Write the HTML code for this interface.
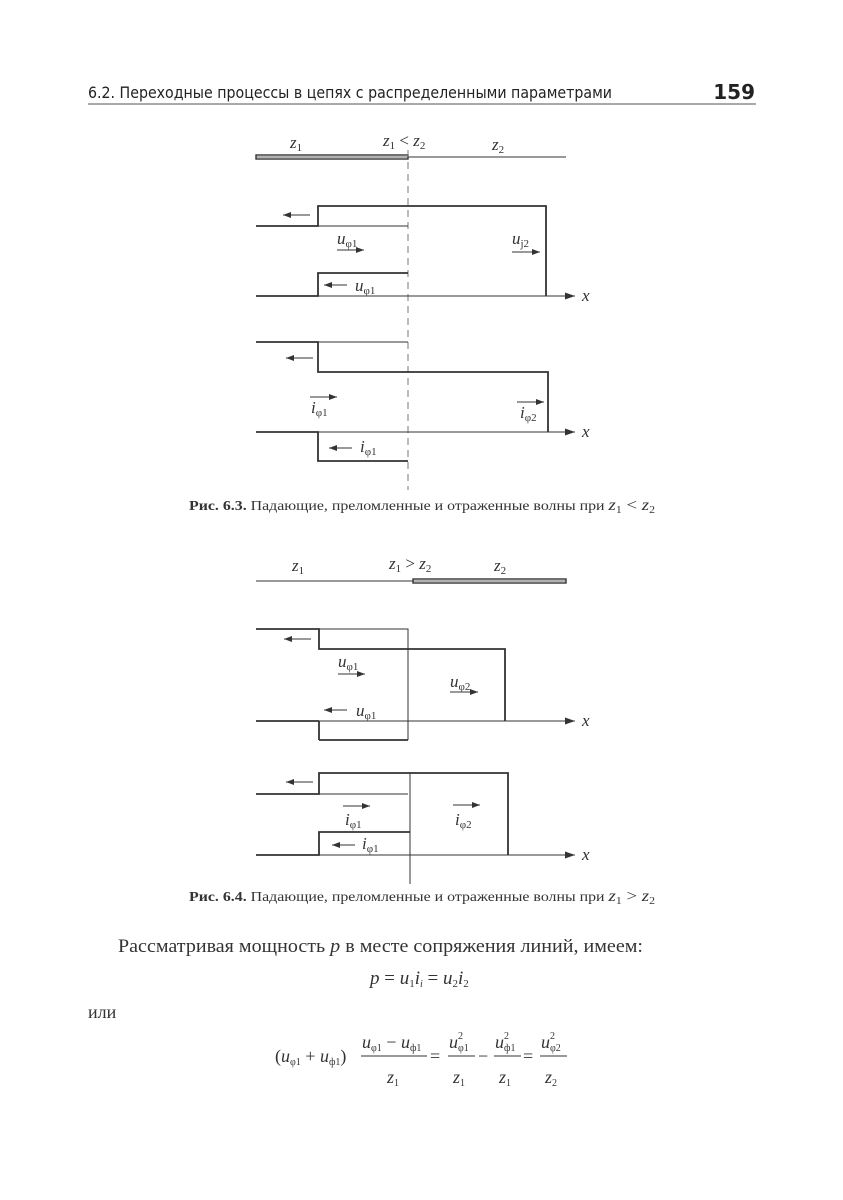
<!DOCTYPE html>
<html><head><meta charset="utf-8"><style>
html,body{margin:0;padding:0;background:#fff;}
svg{display:block}
.s{font-family:"Liberation Serif",serif;fill:#333}
.i{font-family:"Liberation Serif",serif;font-style:italic;fill:#333}
</style></head><body>
<svg width="843" height="1200" viewBox="0 0 843 1200" xmlns="http://www.w3.org/2000/svg">
<defs><marker id="a" markerWidth="8" markerHeight="6" refX="8" refY="3" orient="auto" markerUnits="userSpaceOnUse"><path d="M0,0 L8,3 L0,6z" fill="#333"/></marker>
<marker id="b" markerWidth="10" markerHeight="7" refX="10" refY="3.5" orient="auto" markerUnits="userSpaceOnUse"><path d="M0,0 L10,3.5 L0,7z" fill="#333"/></marker></defs>
<!-- header -->
<text x="88" y="98" font-family="'DejaVu Sans Condensed','DejaVu Sans',sans-serif" font-size="16" fill="#222" textLength="524" lengthAdjust="spacingAndGlyphs">6.2. Переходные процессы в цепях с распределенными параметрами</text>
<text x="755" y="99" text-anchor="end" font-family="'DejaVu Sans',sans-serif" font-weight="bold" font-size="20" fill="#222">159</text>
<line x1="88" y1="104" x2="756" y2="104" stroke="#555" stroke-width="1"/>

<g stroke="#333" fill="none">
<!-- Fig 6.3 top line -->
<rect x="256" y="155" width="152" height="4" stroke-width="1.4"/>
<line x1="256" y1="157" x2="408" y2="157" stroke-width="0.8"/>
<line x1="408" y1="157" x2="566" y2="157" stroke-width="1"/>
<line x1="408" y1="150" x2="408" y2="490" stroke="#777" stroke-width="1" stroke-dasharray="7,5"/>
<!-- u -->
<polyline points="256,226 318,226 318,206 546,206 546,296" stroke-width="1.8"/>
<line x1="318" y1="226" x2="408" y2="226" stroke-width="1"/>
<polyline points="256,296 318,296 318,273 408,273" stroke-width="1.8"/>
<line x1="318" y1="296" x2="575" y2="296" stroke-width="1" marker-end="url(#b)"/>
<!-- i -->
<polyline points="256,342 318,342 318,372 548,372 548,432" stroke-width="1.8"/>
<line x1="318" y1="342" x2="408" y2="342" stroke-width="1"/>
<polyline points="256,432 318,432 318,461 408,461" stroke-width="1.8"/>
<line x1="318" y1="432" x2="575" y2="432" stroke-width="1" marker-end="url(#b)"/>
<!-- arrows -->
<line x1="310" y1="215" x2="283" y2="215" marker-end="url(#a)"/>
<line x1="337" y1="250" x2="364" y2="250" marker-end="url(#a)"/>
<line x1="512" y1="252" x2="540" y2="252" marker-end="url(#a)"/>
<line x1="347" y1="285" x2="324" y2="285" marker-end="url(#a)"/>
<line x1="313" y1="358" x2="286" y2="358" marker-end="url(#a)"/>
<line x1="310" y1="397" x2="337" y2="397" marker-end="url(#a)"/>
<line x1="517" y1="402" x2="544" y2="402" marker-end="url(#a)"/>
<line x1="352" y1="448" x2="329" y2="448" marker-end="url(#a)"/>

<!-- Fig 6.4 top line -->
<line x1="256" y1="581" x2="413" y2="581" stroke-width="1"/>
<rect x="413" y="579" width="153" height="4" stroke-width="1.4"/>
<line x1="413" y1="581" x2="566" y2="581" stroke-width="0.8"/>
<!-- u -->
<polyline points="256,629 319,629 319,649 505,649 505,721" stroke-width="1.8"/>
<polyline points="319,629 408,629 408,740" stroke-width="1"/>
<line x1="319" y1="740" x2="408" y2="740" stroke-width="1.8"/>
<line x1="319" y1="721" x2="319" y2="740" stroke-width="1.8"/>
<line x1="256" y1="721" x2="319" y2="721" stroke-width="1.8"/>
<line x1="319" y1="721" x2="575" y2="721" stroke-width="1" marker-end="url(#b)"/>
<!-- i -->
<polyline points="256,794 319,794 319,773 508,773 508,855" stroke-width="1.8"/>
<line x1="319" y1="794" x2="408" y2="794" stroke-width="1"/>
<polyline points="256,855 319,855 319,832 410,832" stroke-width="1.8"/>
<line x1="319" y1="855" x2="575" y2="855" stroke-width="1" marker-end="url(#b)"/>
<line x1="410" y1="773" x2="410" y2="884" stroke-width="1"/>
<!-- arrows -->
<line x1="311" y1="639" x2="284" y2="639" marker-end="url(#a)"/>
<line x1="338" y1="674" x2="365" y2="674" marker-end="url(#a)"/>
<line x1="450" y1="692" x2="478" y2="692" marker-end="url(#a)"/>
<line x1="347" y1="710" x2="324" y2="710" marker-end="url(#a)"/>
<line x1="313" y1="782" x2="286" y2="782" marker-end="url(#a)"/>
<line x1="343" y1="806" x2="370" y2="806" marker-end="url(#a)"/>
<line x1="453" y1="805" x2="480" y2="805" marker-end="url(#a)"/>
<line x1="355" y1="845" x2="332" y2="845" marker-end="url(#a)"/>
</g>

<g font-size="17">
<!-- 6.3 labels -->
<text class="i" x="290" y="148">z<tspan font-size="11" dy="3" font-style="normal">1</tspan></text>
<text class="i" x="383" y="146">z<tspan font-size="11" dy="3" font-style="normal">1</tspan><tspan dy="-3" font-style="normal"> &lt; </tspan>z<tspan font-size="11" dy="3" font-style="normal">2</tspan></text>
<text class="i" x="492" y="150">z<tspan font-size="11" dy="3" font-style="normal">2</tspan></text>
<text class="i" x="337" y="244">u<tspan font-size="11" dy="3" font-style="normal">φ1</tspan></text>
<text class="i" x="512" y="244">u<tspan font-size="11" dy="3" font-style="normal">j2</tspan></text>
<text class="i" x="355" y="291">u<tspan font-size="11" dy="3" font-style="normal">φ1</tspan></text>
<text class="i" x="582" y="301">x</text>
<text class="i" x="311" y="413">i<tspan font-size="11" dy="3" font-style="normal">φ1</tspan></text>
<text class="i" x="520" y="418">i<tspan font-size="11" dy="3" font-style="normal">φ2</tspan></text>
<text class="i" x="360" y="452">i<tspan font-size="11" dy="3" font-style="normal">φ1</tspan></text>
<text class="i" x="582" y="437">x</text>
<!-- 6.4 labels -->
<text class="i" x="292" y="571">z<tspan font-size="11" dy="3" font-style="normal">1</tspan></text>
<text class="i" x="389" y="569">z<tspan font-size="11" dy="3" font-style="normal">1</tspan><tspan dy="-3" font-style="normal"> &gt; </tspan>z<tspan font-size="11" dy="3" font-style="normal">2</tspan></text>
<text class="i" x="494" y="571">z<tspan font-size="11" dy="3" font-style="normal">2</tspan></text>
<text class="i" x="338" y="667">u<tspan font-size="11" dy="3" font-style="normal">φ1</tspan></text>
<text class="i" x="450" y="687">u<tspan font-size="11" dy="3" font-style="normal">φ2</tspan></text>
<text class="i" x="356" y="716">u<tspan font-size="11" dy="3" font-style="normal">φ1</tspan></text>
<text class="i" x="582" y="726">x</text>
<text class="i" x="345" y="825">i<tspan font-size="11" dy="3" font-style="normal">φ1</tspan></text>
<text class="i" x="455" y="825">i<tspan font-size="11" dy="3" font-style="normal">φ2</tspan></text>
<text class="i" x="362" y="849">i<tspan font-size="11" dy="3" font-style="normal">φ1</tspan></text>
<text class="i" x="582" y="860">x</text>
</g>

<!-- captions -->
<text class="s" x="189" y="510" font-size="13.5" textLength="466" lengthAdjust="spacingAndGlyphs"><tspan font-weight="bold">Рис. 6.3.</tspan> Падающие, преломленные и отраженные волны при  <tspan font-style="italic" font-size="16">z</tspan><tspan font-size="10" dy="3">1</tspan><tspan dy="-3" font-size="16"> &lt; </tspan><tspan font-style="italic" font-size="16">z</tspan><tspan font-size="10" dy="3">2</tspan></text>
<text class="s" x="189" y="901" font-size="13.5" textLength="466" lengthAdjust="spacingAndGlyphs"><tspan font-weight="bold">Рис. 6.4.</tspan> Падающие, преломленные и отраженные волны при  <tspan font-style="italic" font-size="16">z</tspan><tspan font-size="10" dy="3">1</tspan><tspan dy="-3" font-size="16"> &gt; </tspan><tspan font-style="italic" font-size="16">z</tspan><tspan font-size="10" dy="3">2</tspan></text>

<!-- body -->
<text class="s" x="118" y="952" font-size="19" fill="#222" textLength="525" lengthAdjust="spacingAndGlyphs">Рассматривая мощность  <tspan font-style="italic">p</tspan>  в месте сопряжения линий, имеем:</text>
<text class="i" x="370" y="984" font-size="19">p <tspan font-style="normal">=</tspan> u<tspan font-size="11" dy="3" font-style="normal">1</tspan><tspan dy="-3">i</tspan><tspan font-size="10" dy="3">i</tspan><tspan dy="-3" font-style="normal"> = </tspan>u<tspan font-size="11" dy="3" font-style="normal">2</tspan><tspan dy="-3">i</tspan><tspan font-size="11" dy="3" font-style="normal">2</tspan></text>
<text class="s" x="88" y="1018" font-size="18" fill="#222">или</text>
<g font-size="18">
<text class="i" x="275" y="1062"><tspan font-style="normal">(</tspan>u<tspan font-size="10" dy="3" font-style="normal">φ1</tspan><tspan dy="-3" font-style="normal"> + </tspan>u<tspan font-size="10" dy="3" font-style="normal">ф1</tspan><tspan dy="-3" font-style="normal">)</tspan></text>
<text class="i" x="362" y="1048">u<tspan font-size="10" dy="3" font-style="normal">φ1</tspan><tspan dy="-3" font-style="normal"> − </tspan>u<tspan font-size="10" dy="3" font-style="normal">ф1</tspan></text>
<line x1="361" y1="1056" x2="427" y2="1056" stroke="#333"/>
<text class="i" x="387" y="1083">z<tspan font-size="10" dy="3" font-style="normal">1</tspan></text>
<text class="s" x="430" y="1062">=</text>
<text class="i" x="449" y="1048">u<tspan font-size="10" dy="-9" font-style="normal">2</tspan><tspan font-size="10" dx="-5" dy="12" font-style="normal">φ1</tspan></text>
<line x1="448" y1="1056" x2="475" y2="1056" stroke="#333"/>
<text class="i" x="453" y="1083">z<tspan font-size="10" dy="3" font-style="normal">1</tspan></text>
<text class="s" x="478" y="1062">−</text>
<text class="i" x="495" y="1048">u<tspan font-size="10" dy="-9" font-style="normal">2</tspan><tspan font-size="10" dx="-5" dy="12" font-style="normal">ф1</tspan></text>
<line x1="494" y1="1056" x2="521" y2="1056" stroke="#333"/>
<text class="i" x="499" y="1083">z<tspan font-size="10" dy="3" font-style="normal">1</tspan></text>
<text class="s" x="523" y="1062">=</text>
<text class="i" x="541" y="1048">u<tspan font-size="10" dy="-9" font-style="normal">2</tspan><tspan font-size="10" dx="-5" dy="12" font-style="normal">φ2</tspan></text>
<line x1="540" y1="1056" x2="567" y2="1056" stroke="#333"/>
<text class="i" x="545" y="1083">z<tspan font-size="10" dy="3" font-style="normal">2</tspan></text>
</g>
</svg>
</body></html>
